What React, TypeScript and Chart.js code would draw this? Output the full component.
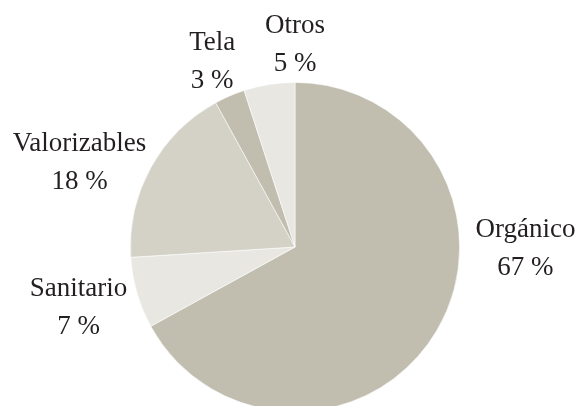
import React, { useEffect, useRef } from "react";
import { Chart, registerables } from "chart.js";

Chart.register(...registerables);

const categories = ["Orgánico", "Sanitario", "Valorizables", "Tela", "Otros"];
const values = [67, 7, 18, 3, 5];
const percentLabels = ["67 %", "7 %", "18 %", "3 %", "5 %"];
const sliceColors = ["#c1beb0", "#e8e7e2", "#d4d2c7", "#c1beb0", "#e8e7e2"];

// label anchor (first-line baseline centre) relative to pie centre, in px at radius 165
const labelOffsets = [
  [231, -10],
  [-217, 49],
  [-216, -96],
  [-83, -197],
  [0, -215],
];

const labelPlugin = {
  id: "sliceLabels",
  afterDraw(chart: any) {
    const ctx = chart.ctx;
    const meta = chart.getDatasetMeta(0);
    const arc = meta.data[0];
    if (!arc) return;
    const cx = arc.x;
    const cy = arc.y;
    const scale = arc.outerRadius / 165;
    ctx.save();
    ctx.fillStyle = "#231f20";
    ctx.textAlign = "center";
    ctx.textBaseline = "alphabetic";
    ctx.font = "27px 'Liberation Serif', serif";
    categories.forEach((c, i) => {
      const x = cx + labelOffsets[i][0] * scale;
      const y = cy + labelOffsets[i][1] * scale;
      ctx.fillText(c, x, y);
      ctx.fillText(percentLabels[i], x, y + 38);
    });
    ctx.restore();
  },
};

export default function App() {
  const ref = useRef<HTMLCanvasElement>(null);
  useEffect(() => {
    if (!ref.current) return;
    const chart = new Chart(ref.current, {
      type: "pie",
      data: {
        labels: categories,
        datasets: [
          {
            data: values,
            backgroundColor: sliceColors,
            borderColor: "rgba(255,255,255,0.7)",
            borderWidth: 0.8,
          },
        ],
      },
      options: {
        responsive: false,
        animation: false,
        layout: { padding: { top: 82, bottom: 18, left: 130, right: 121 } },
        plugins: {
          legend: { display: false },
          tooltip: { enabled: false },
        },
      },
      plugins: [labelPlugin],
    });
    return () => chart.destroy();
  }, []);
  return (
    <div
      style={{
        position: "fixed",
        left: 0,
        top: 0,
        width: 581,
        height: 406,
        overflow: "hidden",
        background: "#ffffff",
      }}
    >
      <canvas ref={ref} width={581} height={430} style={{ width: 581, height: 430, display: "block" }} />
    </div>
  );
}
